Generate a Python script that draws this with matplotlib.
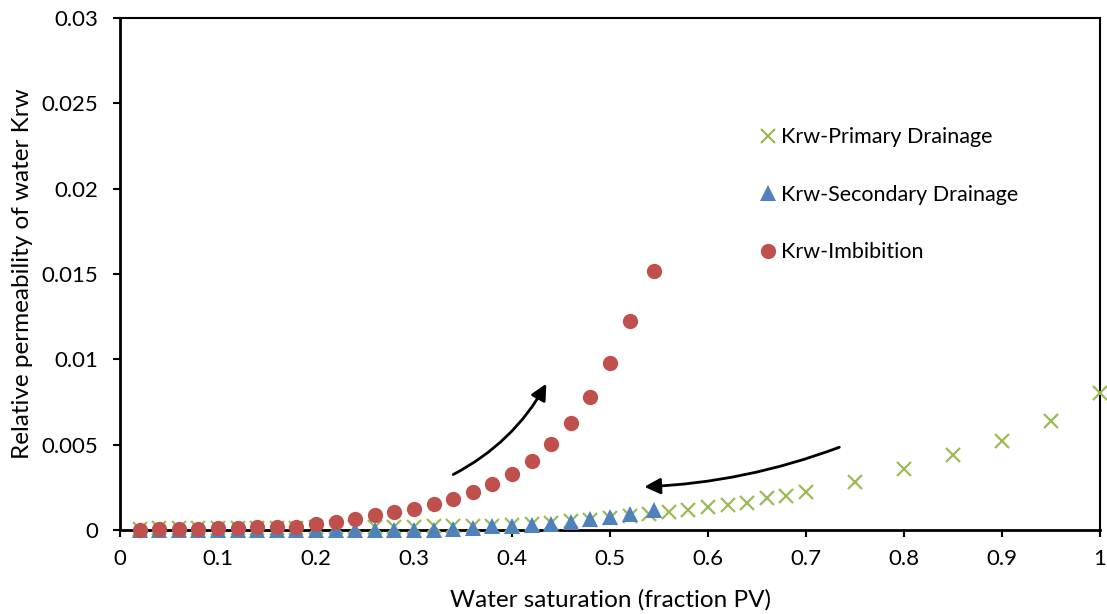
import matplotlib
matplotlib.use("Agg")
import matplotlib.pyplot as plt
from matplotlib.ticker import FuncFormatter, MultipleLocator

plt.rcParams['font.family'] = ['Lato', 'DejaVu Sans']

# primary drainage (green crosses)
sw_pd = [0.02, 0.04, 0.06, 0.08, 0.10, 0.12, 0.14, 0.16, 0.18, 0.20,
         0.22, 0.24, 0.26, 0.28, 0.30, 0.32, 0.34, 0.36, 0.38, 0.40,
         0.42, 0.44, 0.46, 0.48, 0.50, 0.52, 0.54, 0.56, 0.58, 0.60,
         0.62, 0.64, 0.66, 0.68, 0.70, 0.75, 0.80, 0.85, 0.90, 0.95, 1.00]
krw_pd = [0.00008, 0.00009, 0.0001, 0.0001, 0.00011, 0.00012, 0.00012, 0.00013, 0.00014, 0.00015,
          0.00016, 0.00017, 0.00018, 0.00019, 0.0002, 0.00021, 0.00022, 0.00024, 0.00026, 0.0003,
          0.00035, 0.00042, 0.0005, 0.0006, 0.0007, 0.0008, 0.00095, 0.00104, 0.0012, 0.00136,
          0.00145, 0.0016, 0.00186, 0.002, 0.0022, 0.0028, 0.0036, 0.0044, 0.0052, 0.0064, 0.008]

# secondary drainage + imbibition share the same saturation steps
sw_sd = [0.02, 0.04, 0.06, 0.08, 0.10, 0.12, 0.14, 0.16, 0.18, 0.20,
         0.22, 0.24, 0.26, 0.28, 0.30, 0.32, 0.34, 0.36, 0.38, 0.40,
         0.42, 0.44, 0.46, 0.48, 0.50, 0.52, 0.545]
krw_sd = [0, 0, 0, 0, 0, 0, 0, 0, 0, 0,
          0, 0, 0, 0, 0, 0, 0.00005, 0.0001, 0.00022, 0.00026,
          0.00032, 0.00036, 0.00046, 0.00062, 0.00075, 0.00091, 0.0012]

sw_im = sw_sd
krw_im = [0.0, 0.00003, 0.00005, 0.00005, 0.0001, 0.00012, 0.00015, 0.00017, 0.0002, 0.00035,
          0.00046, 0.00064, 0.00087, 0.00107, 0.00126, 0.00152, 0.00183, 0.00223, 0.00268, 0.0033,
          0.00404, 0.00504, 0.00627, 0.00781, 0.00979, 0.01223, 0.01519]

fig = plt.figure(figsize=(11.07, 6.14), dpi=100)
ax = fig.add_axes([0.1084, 0.1368, 0.8853, 0.8339])

ax.plot(sw_pd, krw_pd, linestyle='none', marker='x', ms=10, mew=1.6,
        color='#9BBB59', label='Krw-Primary Drainage', clip_on=False, zorder=3)
ax.plot(sw_sd, krw_sd, linestyle='none', marker='^', ms=12, mew=0,
        color='#4F81BD', label='Krw-Secondary Drainage', clip_on=False, zorder=4)
ax.plot(sw_im, krw_im, linestyle='none', marker='o', ms=11, mew=0,
        color='#C0504D', label='Krw-Imbibition', clip_on=False, zorder=5)

# direction arrows
arrow_kw = dict(arrowstyle='-|>', color='black', lw=2, mutation_scale=24,
                shrinkA=0, shrinkB=0)
ax.annotate('', xy=(0.435, 0.00857), xytext=(0.34, 0.00325),
            arrowprops=dict(arrow_kw, connectionstyle='arc3,rad=0.15'))
ax.annotate('', xy=(0.535, 0.00253), xytext=(0.734, 0.00485),
            arrowprops=dict(arrow_kw, connectionstyle='arc3,rad=-0.08'))

ax.set_xlim(0, 1)
ax.set_ylim(0, 0.03)
ax.xaxis.set_major_locator(MultipleLocator(0.1))
ax.yaxis.set_major_locator(MultipleLocator(0.005))
fmt = FuncFormatter(lambda v, p: '%g' % round(v, 4))
ax.xaxis.set_major_formatter(fmt)
ax.yaxis.set_major_formatter(fmt)
ax.tick_params(direction='out', length=5, width=1.5, labelsize=16)
ax.tick_params(axis='y', pad=11)
ax.tick_params(axis='x', pad=9)

for side in ['left', 'bottom', 'top', 'right']:
    ax.spines[side].set_linewidth(1.5)
    ax.spines[side].set_color('black')
ax.spines['left'].set_linewidth(2)
ax.spines['bottom'].set_linewidth(2)

ax.set_xlabel('Water saturation (fraction PV)', fontsize=17.5, labelpad=14)
ax.set_ylabel('Relative permeability of water Krw', fontsize=17.5, labelpad=6)

ax.legend(loc='upper left', bbox_to_anchor=(0.6525, 0.787), frameon=False,
          fontsize=15.5, labelspacing=1.75, handlelength=0.8, handletextpad=0.2,
          borderaxespad=0, borderpad=0)

fig.savefig('out.png', dpi=100)
